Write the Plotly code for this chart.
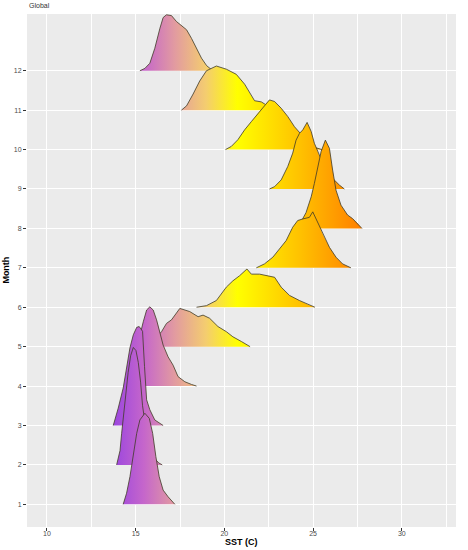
import plotly.graph_objects as go

# Ridge profiles: SST (C) and ridge height in month units
sst_m1 = [14.30, 14.49, 14.68, 14.87, 15.06, 15.24, 15.52, 15.77, 15.96, 16.14, 16.33, 16.55, 16.83, 17.21]
dens_m1 = [0, 0.28, 0.70, 1.21, 1.80, 2.14, 2.31, 2.18, 1.80, 1.21, 0.70, 0.36, 0.19, 0]

sst_m2 = [13.93, 14.12, 14.21, 14.30, 14.40, 14.58, 14.72, 14.87, 15.02, 15.15, 15.28, 15.39, 15.55, 15.75, 16.0, 16.3, 16.5]
dens_m2 = [0, 0.36, 0.79, 1.21, 1.63, 2.35, 2.77, 2.98, 2.90, 2.60, 2.10, 1.50, 1.00, 0.50, 0.20, 0.05, 0]

sst_m3 = [13.74, 14.02, 14.30, 14.49, 14.68, 14.87, 15.06, 15.20, 15.39, 15.50, 15.62, 15.80, 16.08, 16.55]
dens_m3 = [0, 0.44, 0.95, 1.46, 1.97, 2.30, 2.49, 2.51, 2.39, 1.50, 0.65, 0.40, 0.14, 0]

sst_m4 = [14.5, 14.8, 15.05, 15.25, 15.43, 15.62, 15.80, 15.99, 16.18, 16.37, 16.55, 16.83, 17.11, 17.39, 17.77, 18.15, 18.43]
dens_m4 = [0, 0.25, 0.80, 1.30, 1.63, 1.93, 2.01, 1.93, 1.68, 1.38, 1.04, 0.74, 0.53, 0.24, 0.11, 0.04, 0]

sst_m5 = [15.6, 15.9, 16.2, 16.46, 16.74, 17.02, 17.49, 17.77, 18.05, 18.52, 18.80, 19.17, 19.64, 20.11, 20.48, 20.96, 21.45]
dens_m5 = [0, 0.10, 0.25, 0.38, 0.59, 0.68, 0.97, 0.93, 0.89, 0.76, 0.80, 0.72, 0.51, 0.38, 0.25, 0.13, 0]

sst_m6 = [18.43, 18.99, 19.55, 20.11, 20.48, 20.86, 21.27, 21.52, 21.98, 22.45, 22.83, 23.20, 23.67, 24.23, 24.70, 25.10]
dens_m6 = [0, 0.04, 0.17, 0.51, 0.67, 0.80, 0.97, 0.84, 0.84, 0.80, 0.76, 0.51, 0.30, 0.17, 0.07, 0]

sst_m7 = [21.80, 22.26, 22.73, 23.11, 23.48, 23.85, 24.13, 24.42, 24.79, 24.98, 25.26, 25.54, 25.92, 26.29, 26.66, 27.13]
dens_m7 = [0, 0.10, 0.27, 0.48, 0.69, 1.03, 1.20, 1.24, 1.28, 1.42, 1.16, 0.86, 0.52, 0.27, 0.10, 0]

sst_m8 = [24.0, 24.3, 24.6, 24.89, 25.07, 25.26, 25.45, 25.69, 25.92, 26.10, 26.29, 26.57, 26.94, 27.22, 27.50, 27.75]
dens_m8 = [0, 0.15, 0.40, 0.80, 1.14, 1.56, 1.95, 2.24, 2.03, 1.48, 0.97, 0.59, 0.34, 0.25, 0.13, 0]

sst_m9 = [22.54, 22.83, 23.20, 23.57, 23.85, 24.04, 24.23, 24.42, 24.66, 24.89, 25.07, 25.3, 25.6, 25.9, 26.1, 26.48, 26.76]
dens_m9 = [0, 0.06, 0.23, 0.57, 0.91, 1.24, 1.41, 1.50, 1.69, 1.46, 1.16, 0.90, 0.60, 0.38, 0.27, 0.10, 0]

sst_m10 = [20.06, 20.39, 20.76, 21.14, 21.52, 21.89, 22.26, 22.54, 22.83, 23.20, 23.57, 23.95, 24.4, 24.8, 25.2, 25.5]
dens_m10 = [0, 0.08, 0.25, 0.50, 0.71, 0.92, 1.13, 1.26, 1.22, 1.05, 0.84, 0.58, 0.35, 0.15, 0.04, 0]

sst_m11 = [17.58, 17.87, 18.24, 18.61, 18.99, 19.55, 20.11, 20.67, 21.14, 21.52, 21.70, 22.08, 22.4, 22.8, 23.1]
dens_m11 = [0, 0.11, 0.41, 0.74, 1.00, 1.12, 1.04, 0.91, 0.66, 0.36, 0.24, 0.21, 0.12, 0.03, 0]

sst_m12 = [15.24, 15.52, 15.80, 16.08, 16.37, 16.55, 16.74, 17.02, 17.30, 17.58, 17.87, 18.15, 18.43, 18.71, 19.0, 19.27, 19.5]
dens_m12 = [0, 0.06, 0.19, 0.57, 1.08, 1.35, 1.42, 1.40, 1.25, 1.15, 1.04, 0.82, 0.57, 0.32, 0.13, 0.03, 0]

months = list(range(1, 13))
x_ticks = [10, 15, 20, 25, 30]

ridges = {
    1: (sst_m1, dens_m1), 2: (sst_m2, dens_m2), 3: (sst_m3, dens_m3),
    4: (sst_m4, dens_m4), 5: (sst_m5, dens_m5), 6: (sst_m6, dens_m6),
    7: (sst_m7, dens_m7), 8: (sst_m8, dens_m8), 9: (sst_m9, dens_m9),
    10: (sst_m10, dens_m10), 11: (sst_m11, dens_m11), 12: (sst_m12, dens_m12),
}

# purple -> yellow -> dark orange, mapped on SST
sst_lo, sst_hi = 13.7, 27.75
fill_scale = [
    [0.0, "#9A45E0"], [0.125, "#C566CB"], [0.25, "#E29BA0"],
    [0.375, "#F4CD6F"], [0.5, "#FFFF00"], [0.75, "#FFC200"], [1.0, "#FF7E00"],
]

fig = go.Figure()

# top ridges first so lower months sit in front (ggridges order)
for m in reversed(months):
    xs, hs = ridges[m]
    fig.add_trace(go.Scatter(
        x=xs + [xs[-1], xs[0]],
        y=[m + h for h in hs] + [m, m],
        mode="none", fill="toself",
        fillgradient=dict(type="horizontal", colorscale=fill_scale,
                          start=sst_lo, stop=sst_hi),
        hoverinfo="skip", showlegend=False,
    ))
    fig.add_trace(go.Scatter(
        x=xs, y=[m + h for h in hs], mode="lines",
        line=dict(color="#3f3a26", width=0.8),
        hoverinfo="skip", showlegend=False,
    ))

axis_common = dict(
    showline=False, zeroline=False, automargin=False,
    showgrid=True, gridcolor="white", gridwidth=1.1,
    ticks="outside", ticklen=3, tickcolor="#333333", tickwidth=0.8,
    tickfont=dict(size=7, color="#4d4d4d"),
)

fig.update_xaxes(
    range=[8.88, 33.05], tickvals=x_ticks, ticklabelstandoff=-3,
    minor=dict(tickvals=[12.5, 17.5, 22.5, 27.5, 32.5], showgrid=True,
               gridcolor="white", gridwidth=0.5, ticks=""),
    **axis_common,
)
fig.update_yaxes(range=[0.424, 13.44], tickvals=months, ticklabelstandoff=0,
                 **axis_common)

fig.update_layout(
    width=468, height=550,
    margin=dict(l=27, r=12, t=14, b=23),
    paper_bgcolor="white", plot_bgcolor="#ebebeb",
    font=dict(family="Liberation Sans, Arial, sans-serif", color="#222222"),
    annotations=[
        dict(text="Global", x=0, y=1.006, xref="paper", yref="paper",
             xanchor="left", yanchor="bottom", showarrow=False,
             font=dict(size=7, color="#333333")),
        dict(text="<b>SST (C)</b>", x=0.5, y=-0.03, xref="paper", yref="paper",
             xanchor="center", yanchor="middle", showarrow=False,
             font=dict(size=9, color="#000000")),
        dict(text="<b>Month</b>", x=-0.051, y=0.5, xref="paper", yref="paper",
             xanchor="center", yanchor="middle", textangle=-90, showarrow=False,
             font=dict(size=9, color="#000000")),
    ],
)

# drop the browser's default body margin so the figure sits at the page corner
fig.write_html("out.html", config={"displayModeBar": False},
               post_script="document.body.style.margin='0';")
